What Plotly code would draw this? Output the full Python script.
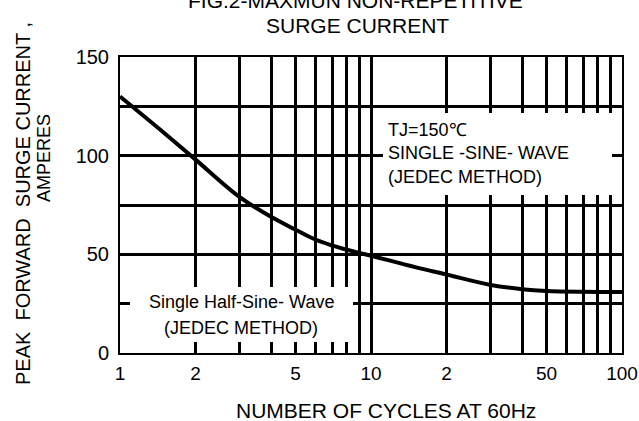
import plotly.graph_objects as go

# Data
cycles = [1, 1.5, 2, 3, 4, 5, 6, 7, 8, 10, 15, 20, 30, 40, 50, 70, 100]
current = [130, 111.5, 98, 79, 69, 62.5, 57.5, 54.5, 52.3, 49.3, 43.5, 39.8, 34.5, 32.3, 31.4, 31, 30.9]

x_grid = [1, 2, 3, 4, 5, 6, 7, 8, 9, 10, 20, 30, 40, 50, 60, 70, 80, 90, 100]
x_labels = ["1", "2", "", "", "5", "", "", "", "", "10", "2", "", "", "50", "", "", "", "", "100"]
y_grid = [0, 25, 50, 75, 100, 125, 150]
y_labels = ["0", "", "50", "", "100", "", "150"]

FONT = "Liberation Sans, Arial, sans-serif"

L, R, T, B = 120, 622, 57, 353
W, H = R - L, B - T


def px(xp):
    return (xp - L) / W


def py(yp):
    return (B - yp) / H


fig = go.Figure()
fig.add_trace(go.Scatter(x=cycles, y=current, mode="lines",
                         line=dict(color="black", width=4, shape="spline", smoothing=1.0),
                         showlegend=False, hoverinfo="skip"))

fig.update_layout(
    width=639, height=421, autosize=False,
    margin=dict(l=L, r=639 - R, t=T, b=421 - B),
    paper_bgcolor="white", plot_bgcolor="white",
    font=dict(family=FONT, color="black", size=20),
    xaxis=dict(type="log", range=[0, 2], tickvals=x_grid, ticktext=x_labels,
               showgrid=True, gridcolor="black", gridwidth=3, automargin=False,
               showline=True, linecolor="black", linewidth=2, mirror=True,
               ticks="", tickfont=dict(size=19), ticklabelstandoff=2, zeroline=False),
    yaxis=dict(range=[0, 150], tickvals=y_grid, ticktext=y_labels,
               showgrid=True, gridcolor="black", gridwidth=3, automargin=False,
               showline=True, linecolor="black", linewidth=2, mirror=True,
               ticks="", tickfont=dict(size=20), ticklabelstandoff=5, zeroline=False),
)

# white boxes behind annotation text (cover gridlines; curve does not pass here)
fig.add_shape(type="rect", xref="paper", yref="paper", x0=px(130), x1=px(353), y0=py(342), y1=py(287),
              fillcolor="white", line=dict(width=0), layer="above")
fig.add_shape(type="rect", xref="paper", yref="paper", x0=px(383), x1=px(612), y0=py(195), y1=py(113),
              fillcolor="white", line=dict(width=0), layer="above")

ann = [
    dict(text="Single Half-Sine- Wave", x=px(241), y=py(302), xanchor="center"),
    dict(text="(JEDEC METHOD)", x=px(241), y=py(328), xanchor="center"),
    dict(text="TJ=150℃", x=px(386), y=py(130), xanchor="left"),
    dict(text="SINGLE -SINE- WAVE", x=px(386), y=py(153), xanchor="left"),
    dict(text="(JEDEC METHOD)", x=px(386), y=py(177), xanchor="left"),
]
for a in ann:
    fig.add_annotation(xref="paper", yref="paper", showarrow=False, yanchor="middle",
                       font=dict(size=18, family=FONT), **a)

# titles
fig.add_annotation(text="FIG.2-MAXMUN NON-REPETITIVE", xref="paper", yref="paper", x=px(355),
                   y=py(0), showarrow=False, xanchor="center", yanchor="middle", font=dict(size=21))
fig.add_annotation(text="SURGE CURRENT", xref="paper", yref="paper", x=px(357),
                   y=py(26), showarrow=False, xanchor="center", yanchor="middle", font=dict(size=21))
fig.add_annotation(text="NUMBER OF CYCLES AT 60Hz", xref="paper", yref="paper", x=px(386),
                   y=py(410), showarrow=False, xanchor="center", yanchor="middle", font=dict(size=21))
fig.add_annotation(text="PEAK  FORWARD  SURGE CURRENT ,", xref="paper", yref="paper", x=px(23),
                   y=py(204), showarrow=False, xanchor="center", yanchor="middle", textangle=-90,
                   font=dict(size=20))
fig.add_annotation(text="AMPERES", xref="paper", yref="paper", x=px(44),
                   y=py(158), showarrow=False, xanchor="center", yanchor="middle", textangle=-90,
                   font=dict(size=18))

fig.write_html("out.html", config={"displayModeBar": False, "responsive": False},
               post_script="document.body.style.margin='0px';document.body.style.overflow='hidden';")
